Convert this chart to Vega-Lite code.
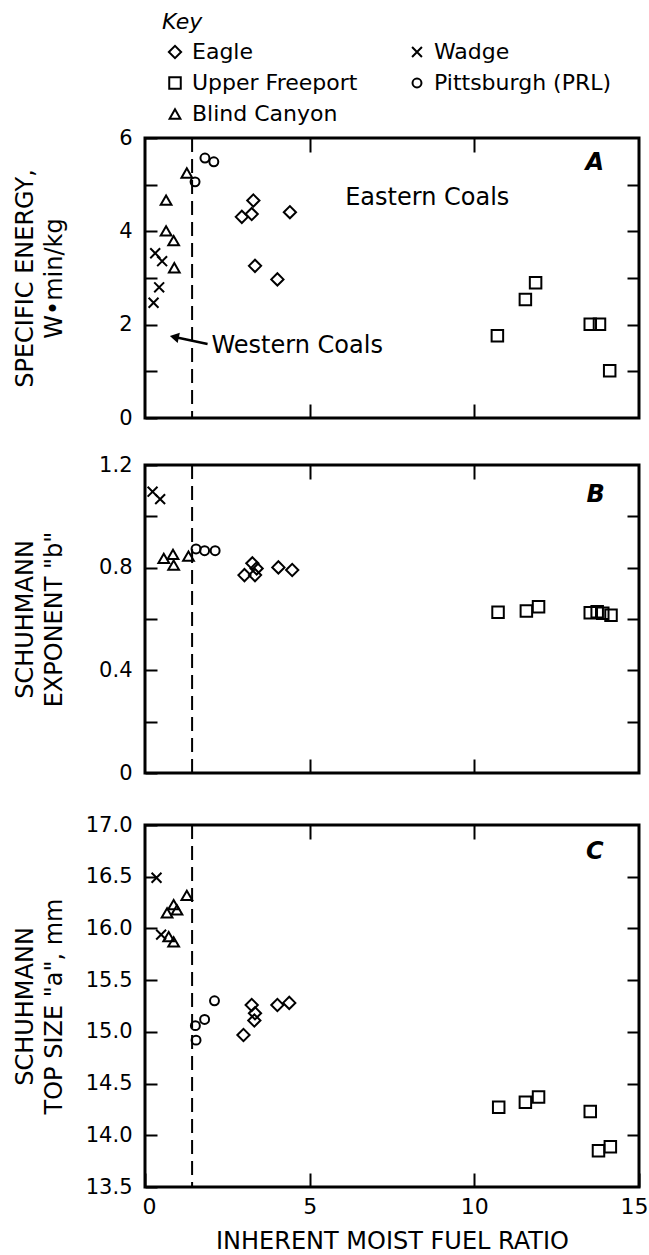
{
  "$schema": "https://vega.github.io/schema/vega-lite/v6.json",
  "padding": {"left": 11, "top": 12, "right": 0, "bottom": 0},
  "autosize": {"type": "pad"},
  "background": "white",
  "config": {
    "font": "DejaVu Sans",
    "view": {"stroke": "black", "strokeWidth": 3},
    "axis": {"domain": false, "grid": false, "labelFontSize": 21, "labelColor": "black", "tickColor": "black", "tickWidth": 2, "titleColor": "black", "labelFlush": false, "labelFont": "DejaVu Sans", "titleFont": "DejaVu Sans"},
    "legend": {"titleFontSize": 22, "titleFontStyle": "italic", "titleFontWeight": "normal", "titleColor": "black", "labelFontSize": 22, "labelColor": "black", "labelLimit": 0, "symbolStrokeColor": "black", "symbolStrokeWidth": 2, "columnPadding": 46, "rowPadding": 9, "labelOffset": 6, "titlePadding": 7, "padding": 0, "symbolOffset": 2}
  },
  "data": {"values": [
    {"panel": "A", "coal": "Pittsburgh (PRL)", "ratio": 1.82, "value": 5.57},
    {"panel": "A", "coal": "Pittsburgh (PRL)", "ratio": 2.09, "value": 5.49},
    {"panel": "A", "coal": "Pittsburgh (PRL)", "ratio": 1.52, "value": 5.06},
    {"panel": "A", "coal": "Blind Canyon", "ratio": 1.27, "value": 5.25},
    {"panel": "A", "coal": "Blind Canyon", "ratio": 0.64, "value": 4.67},
    {"panel": "A", "coal": "Blind Canyon", "ratio": 0.64, "value": 4.01},
    {"panel": "A", "coal": "Blind Canyon", "ratio": 0.87, "value": 3.80},
    {"panel": "A", "coal": "Blind Canyon", "ratio": 0.89, "value": 3.22},
    {"panel": "A", "coal": "Wadge", "ratio": 0.31, "value": 3.53},
    {"panel": "A", "coal": "Wadge", "ratio": 0.52, "value": 3.36},
    {"panel": "A", "coal": "Wadge", "ratio": 0.43, "value": 2.80},
    {"panel": "A", "coal": "Wadge", "ratio": 0.26, "value": 2.47},
    {"panel": "A", "coal": "Eagle", "ratio": 2.94, "value": 4.31},
    {"panel": "A", "coal": "Eagle", "ratio": 3.29, "value": 4.66},
    {"panel": "A", "coal": "Eagle", "ratio": 3.24, "value": 4.37},
    {"panel": "A", "coal": "Eagle", "ratio": 4.40, "value": 4.41},
    {"panel": "A", "coal": "Eagle", "ratio": 3.34, "value": 3.26},
    {"panel": "A", "coal": "Eagle", "ratio": 4.02, "value": 2.97},
    {"panel": "A", "coal": "Upper Freeport", "ratio": 10.70, "value": 1.76},
    {"panel": "A", "coal": "Upper Freeport", "ratio": 11.55, "value": 2.54},
    {"panel": "A", "coal": "Upper Freeport", "ratio": 11.86, "value": 2.90},
    {"panel": "A", "coal": "Upper Freeport", "ratio": 13.52, "value": 2.01},
    {"panel": "A", "coal": "Upper Freeport", "ratio": 13.80, "value": 2.01},
    {"panel": "A", "coal": "Upper Freeport", "ratio": 14.11, "value": 1.01},
    {"panel": "B", "coal": "Wadge", "ratio": 0.23, "value": 1.096},
    {"panel": "B", "coal": "Wadge", "ratio": 0.46, "value": 1.067},
    {"panel": "B", "coal": "Blind Canyon", "ratio": 0.57, "value": 0.836},
    {"panel": "B", "coal": "Blind Canyon", "ratio": 0.85, "value": 0.852},
    {"panel": "B", "coal": "Blind Canyon", "ratio": 0.87, "value": 0.810},
    {"panel": "B", "coal": "Blind Canyon", "ratio": 1.32, "value": 0.845},
    {"panel": "B", "coal": "Pittsburgh (PRL)", "ratio": 1.55, "value": 0.873},
    {"panel": "B", "coal": "Pittsburgh (PRL)", "ratio": 1.81, "value": 0.866},
    {"panel": "B", "coal": "Pittsburgh (PRL)", "ratio": 2.13, "value": 0.866},
    {"panel": "B", "coal": "Eagle", "ratio": 3.02, "value": 0.771},
    {"panel": "B", "coal": "Eagle", "ratio": 3.26, "value": 0.817},
    {"panel": "B", "coal": "Eagle", "ratio": 3.39, "value": 0.797},
    {"panel": "B", "coal": "Eagle", "ratio": 3.34, "value": 0.771},
    {"panel": "B", "coal": "Eagle", "ratio": 4.05, "value": 0.801},
    {"panel": "B", "coal": "Eagle", "ratio": 4.47, "value": 0.791},
    {"panel": "B", "coal": "Upper Freeport", "ratio": 10.72, "value": 0.626},
    {"panel": "B", "coal": "Upper Freeport", "ratio": 11.58, "value": 0.631},
    {"panel": "B", "coal": "Upper Freeport", "ratio": 11.95, "value": 0.648},
    {"panel": "B", "coal": "Upper Freeport", "ratio": 13.52, "value": 0.624},
    {"panel": "B", "coal": "Upper Freeport", "ratio": 13.73, "value": 0.628},
    {"panel": "B", "coal": "Upper Freeport", "ratio": 13.90, "value": 0.622},
    {"panel": "B", "coal": "Upper Freeport", "ratio": 14.15, "value": 0.615},
    {"panel": "C", "coal": "Wadge", "ratio": 0.35, "value": 16.49},
    {"panel": "C", "coal": "Wadge", "ratio": 0.49, "value": 15.94},
    {"panel": "C", "coal": "Blind Canyon", "ratio": 0.67, "value": 16.15},
    {"panel": "C", "coal": "Blind Canyon", "ratio": 0.87, "value": 16.23},
    {"panel": "C", "coal": "Blind Canyon", "ratio": 0.97, "value": 16.18},
    {"panel": "C", "coal": "Blind Canyon", "ratio": 1.27, "value": 16.32},
    {"panel": "C", "coal": "Blind Canyon", "ratio": 0.72, "value": 15.92},
    {"panel": "C", "coal": "Blind Canyon", "ratio": 0.87, "value": 15.87},
    {"panel": "C", "coal": "Pittsburgh (PRL)", "ratio": 1.53, "value": 15.06},
    {"panel": "C", "coal": "Pittsburgh (PRL)", "ratio": 1.55, "value": 14.92},
    {"panel": "C", "coal": "Pittsburgh (PRL)", "ratio": 1.81, "value": 15.12},
    {"panel": "C", "coal": "Pittsburgh (PRL)", "ratio": 2.11, "value": 15.30},
    {"panel": "C", "coal": "Eagle", "ratio": 2.99, "value": 14.97},
    {"panel": "C", "coal": "Eagle", "ratio": 3.24, "value": 15.26},
    {"panel": "C", "coal": "Eagle", "ratio": 3.34, "value": 15.18},
    {"panel": "C", "coal": "Eagle", "ratio": 3.32, "value": 15.11},
    {"panel": "C", "coal": "Eagle", "ratio": 4.02, "value": 15.26},
    {"panel": "C", "coal": "Eagle", "ratio": 4.38, "value": 15.28},
    {"panel": "C", "coal": "Upper Freeport", "ratio": 10.74, "value": 14.27},
    {"panel": "C", "coal": "Upper Freeport", "ratio": 11.55, "value": 14.32},
    {"panel": "C", "coal": "Upper Freeport", "ratio": 11.95, "value": 14.37},
    {"panel": "C", "coal": "Upper Freeport", "ratio": 13.52, "value": 14.23},
    {"panel": "C", "coal": "Upper Freeport", "ratio": 13.77, "value": 13.85},
    {"panel": "C", "coal": "Upper Freeport", "ratio": 14.13, "value": 13.89}
  ]},
  "spacing": 47,
  "bounds": "flush",
  "vconcat": [
    {
      "width": 494, "height": 280,
      "resolve": {"axis": {"x": "independent", "y": "independent"}},
      "layer": [
        {
          "transform": [{"filter": "datum.panel === 'A'"}],
          "mark": {"type": "point", "filled": false, "color": "black", "strokeWidth": 2, "opacity": 1},
          "encoding": {
            "x": {"field": "ratio", "type": "quantitative", "scale": {"domain": [0, 15], "nice": false, "zero": false}, "axis": {"orient": "bottom", "values": [5, 10], "labels": false, "tickSize": -14, "title": null}},
            "y": {"field": "value", "type": "quantitative", "scale": {"domain": [0, 6], "nice": false, "zero": false}, "axis": {"orient": "left", "values": [0, 1, 2, 3, 4, 5, 6], "labelExpr": "datum.value % 2 === 0 ? datum.label : ''", "tickSize": -12, "labelPadding": 25, "title": ["SPECIFIC ENERGY,", "W•min/kg"], "titleFontSize": 24, "titleFontWeight": "normal", "titleAngle": 270, "titleAlign": "center", "titleBaseline": "top", "titleX": -132, "titleY": 140, "titleLineHeight": 29}},
            "shape": {"field": "coal", "type": "nominal", "scale": {"domain": ["Eagle", "Upper Freeport", "Blind Canyon", "Wadge", "Pittsburgh (PRL)"], "range": ["diamond", "square", "triangle-up", "M-1,-1L1,1M1,-1L-1,1", "circle"]}, "legend": {"title": "Key", "orient": "none", "legendX": 17, "legendY": -126, "columns": 2}},
            "size": {"field": "coal", "type": "nominal", "scale": {"domain": ["Eagle", "Upper Freeport", "Blind Canyon", "Wadge", "Pittsburgh (PRL)"], "range": [150, 80, 200, 80, 85]}, "legend": {"title": "Key", "orient": "none", "legendX": 17, "legendY": -126, "columns": 2}}
          }
        },
        {
          "transform": [{"filter": "datum.panel === 'A'"}],
          "mark": {"type": "point", "opacity": 0},
          "encoding": {
            "x": {"field": "ratio", "type": "quantitative", "scale": {"domain": [0, 15], "nice": false, "zero": false}, "axis": null},
            "y": {"field": "value", "type": "quantitative", "scale": {"domain": [0, 6], "nice": false, "zero": false}, "axis": {"orient": "right", "values": [1, 2, 3, 4, 5], "labels": false, "tickSize": -12, "title": null}}
          }
        },
        {
          "data": {"values": [{}]},
          "mark": {"type": "rule", "strokeDash": [14, 7], "strokeWidth": 2, "color": "black"},
          "encoding": {
            "x": {"datum": 1.43, "type": "quantitative", "scale": {"domain": [0, 15], "nice": false, "zero": false}, "axis": {"orient": "top", "values": [5, 10], "labels": false, "tickSize": -14, "title": null}}
          }
        },
        {
          "data": {"values": [{}]},
          "mark": {"type": "text", "fontSize": 24, "align": "center", "baseline": "middle", "color": "black", "text": "Eastern Coals"},
          "encoding": {
            "x": {"datum": 8.57, "type": "quantitative", "axis": null},
            "y": {"datum": 4.71, "type": "quantitative", "axis": null}
          }
        },
        {
          "data": {"values": [{}]},
          "mark": {"type": "text", "fontSize": 24, "align": "left", "baseline": "middle", "color": "black", "text": "Western Coals"},
          "encoding": {
            "x": {"datum": 2.02, "type": "quantitative", "axis": null},
            "y": {"datum": 1.55, "type": "quantitative", "axis": null}
          }
        },
        {
          "data": {"values": [{}]},
          "mark": {"type": "rule", "strokeWidth": 2.5, "color": "black"},
          "encoding": {
            "x": {"datum": 1.90, "type": "quantitative", "axis": null},
            "y": {"datum": 1.585, "type": "quantitative", "axis": null},
            "x2": {"datum": 0.9},
            "y2": {"datum": 1.735}
          }
        },
        {
          "data": {"values": [{}]},
          "mark": {"type": "point", "shape": "triangle-left", "filled": true, "color": "black", "size": 110, "angle": 12, "opacity": 1},
          "encoding": {
            "x": {"datum": 0.89, "type": "quantitative", "axis": null},
            "y": {"datum": 1.736, "type": "quantitative", "axis": null}
          }
        },
        {
          "data": {"values": [{}]},
          "mark": {"type": "text", "fontSize": 24, "fontWeight": "bold", "fontStyle": "italic", "align": "center", "baseline": "middle", "color": "black", "text": "A"},
          "encoding": {
            "x": {"datum": 13.66, "type": "quantitative", "axis": null},
            "y": {"datum": 5.46, "type": "quantitative", "axis": null}
          }
        }
      ]
    },
    {
      "spacing": 52,
      "bounds": "flush",
      "vconcat": [
        {
          "width": 494, "height": 308,
          "resolve": {"axis": {"x": "independent", "y": "independent"}},
          "layer": [
            {
              "transform": [{"filter": "datum.panel === 'B'"}],
              "mark": {"type": "point", "filled": false, "color": "black", "strokeWidth": 2, "opacity": 1},
              "encoding": {
                "x": {"field": "ratio", "type": "quantitative", "scale": {"domain": [0, 15], "nice": false, "zero": false}, "axis": {"orient": "bottom", "values": [5, 10], "labels": false, "tickSize": -14, "title": null}},
                "y": {"field": "value", "type": "quantitative", "scale": {"domain": [0, 1.2], "nice": false, "zero": false}, "axis": {"orient": "left", "values": [0, 0.2, 0.4, 0.6, 0.8, 1.0, 1.2], "format": ".1~f", "labelExpr": "round(datum.value * 10) % 4 === 0 ? datum.label : ''", "tickSize": -12, "labelPadding": 25, "title": ["SCHUHMANN", "EXPONENT \"b\""], "titleFontSize": 24, "titleFontWeight": "normal", "titleAngle": 270, "titleAlign": "center", "titleBaseline": "top", "titleX": -132, "titleY": 154, "titleLineHeight": 29}},
                "shape": {"field": "coal", "type": "nominal", "scale": {"domain": ["Eagle", "Upper Freeport", "Blind Canyon", "Wadge", "Pittsburgh (PRL)"], "range": ["diamond", "square", "triangle-up", "M-1,-1L1,1M1,-1L-1,1", "circle"]}, "legend": {"title": "Key", "orient": "none", "legendX": 17, "legendY": -126, "columns": 2}},
                "size": {"field": "coal", "type": "nominal", "scale": {"domain": ["Eagle", "Upper Freeport", "Blind Canyon", "Wadge", "Pittsburgh (PRL)"], "range": [150, 80, 200, 80, 85]}, "legend": {"title": "Key", "orient": "none", "legendX": 17, "legendY": -126, "columns": 2}}
              }
            },
            {
              "transform": [{"filter": "datum.panel === 'B'"}],
              "mark": {"type": "point", "opacity": 0},
              "encoding": {
                "x": {"field": "ratio", "type": "quantitative", "scale": {"domain": [0, 15], "nice": false, "zero": false}, "axis": null},
                "y": {"field": "value", "type": "quantitative", "scale": {"domain": [0, 1.2], "nice": false, "zero": false}, "axis": {"orient": "right", "values": [0.2, 0.4, 0.6, 0.8, 1.0], "labels": false, "tickSize": -12, "title": null}}
              }
            },
            {
              "data": {"values": [{}]},
              "mark": {"type": "rule", "strokeDash": [14, 7], "strokeWidth": 2, "color": "black"},
              "encoding": {
                "x": {"datum": 1.43, "type": "quantitative", "scale": {"domain": [0, 15], "nice": false, "zero": false}, "axis": {"orient": "top", "values": [5, 10], "labels": false, "tickSize": -14, "title": null}}
              }
            },
            {
              "data": {"values": [{}]},
              "mark": {"type": "text", "fontSize": 24, "fontWeight": "bold", "fontStyle": "italic", "align": "center", "baseline": "middle", "color": "black", "text": "B"},
              "encoding": {
                "x": {"datum": 13.68, "type": "quantitative", "axis": null},
                "y": {"datum": 1.085, "type": "quantitative", "axis": null}
              }
            }
          ]
        },
        {
          "width": 494, "height": 362,
          "resolve": {"axis": {"x": "independent", "y": "independent"}},
          "layer": [
            {
              "transform": [{"filter": "datum.panel === 'C'"}],
              "mark": {"type": "point", "filled": false, "color": "black", "strokeWidth": 2, "opacity": 1},
              "encoding": {
                "x": {"field": "ratio", "type": "quantitative", "scale": {"domain": [0, 15], "nice": false, "zero": false}, "axis": {"orient": "bottom", "values": [0, 5, 10, 15], "format": "d", "tickSize": -14, "labelPadding": 23, "labelFontSize": 22, "labelOffset": {"condition": [{"test": "datum.value === 15", "value": -5}, {"test": "datum.value === 0", "value": 4}], "value": 0}, "title": "INHERENT MOIST FUEL RATIO", "titleFontSize": 24, "titleFontWeight": "normal", "titlePadding": 12}},
                "y": {"field": "value", "type": "quantitative", "scale": {"domain": [13.5, 17], "nice": false, "zero": false}, "axis": {"orient": "left", "values": [13.5, 14, 14.5, 15, 15.5, 16, 16.5, 17], "format": ".1f", "tickSize": -12, "labelPadding": 25, "title": ["SCHUHMANN", "TOP SIZE \"a\", mm"], "titleFontSize": 24, "titleFontWeight": "normal", "titleAngle": 270, "titleAlign": "center", "titleBaseline": "top", "titleX": -132, "titleY": 181, "titleLineHeight": 29}},
                "shape": {"field": "coal", "type": "nominal", "scale": {"domain": ["Eagle", "Upper Freeport", "Blind Canyon", "Wadge", "Pittsburgh (PRL)"], "range": ["diamond", "square", "triangle-up", "M-1,-1L1,1M1,-1L-1,1", "circle"]}, "legend": {"title": "Key", "orient": "none", "legendX": 17, "legendY": -126, "columns": 2}},
                "size": {"field": "coal", "type": "nominal", "scale": {"domain": ["Eagle", "Upper Freeport", "Blind Canyon", "Wadge", "Pittsburgh (PRL)"], "range": [150, 80, 200, 80, 85]}, "legend": {"title": "Key", "orient": "none", "legendX": 17, "legendY": -126, "columns": 2}}
              }
            },
            {
              "transform": [{"filter": "datum.panel === 'C'"}],
              "mark": {"type": "point", "opacity": 0},
              "encoding": {
                "x": {"field": "ratio", "type": "quantitative", "scale": {"domain": [0, 15], "nice": false, "zero": false}, "axis": null},
                "y": {"field": "value", "type": "quantitative", "scale": {"domain": [13.5, 17], "nice": false, "zero": false}, "axis": {"orient": "right", "values": [14, 14.5, 15, 15.5, 16, 16.5], "labels": false, "tickSize": -12, "title": null}}
              }
            },
            {
              "data": {"values": [{}]},
              "mark": {"type": "rule", "strokeDash": [14, 7], "strokeWidth": 2, "color": "black"},
              "encoding": {
                "x": {"datum": 1.43, "type": "quantitative", "scale": {"domain": [0, 15], "nice": false, "zero": false}, "axis": {"orient": "top", "values": [5, 10], "labels": false, "tickSize": -14, "title": null}}
              }
            },
            {
              "data": {"values": [{}]},
              "mark": {"type": "text", "fontSize": 24, "fontWeight": "bold", "fontStyle": "italic", "align": "center", "baseline": "middle", "color": "black", "text": "C"},
              "encoding": {
                "x": {"datum": 13.66, "type": "quantitative", "axis": null},
                "y": {"datum": 16.74, "type": "quantitative", "axis": null}
              }
            }
          ]
        }
      ]
    }
  ]
}
